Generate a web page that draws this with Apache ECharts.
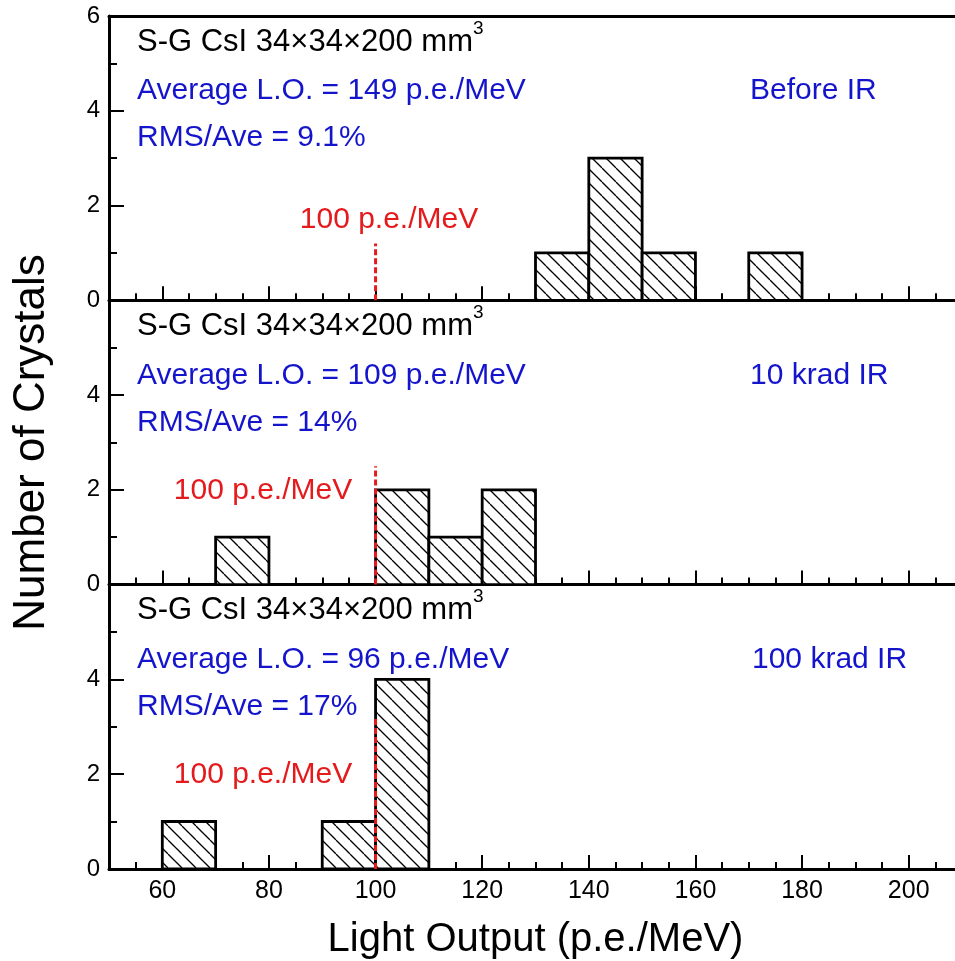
<!DOCTYPE html>
<html>
<head>
<meta charset="utf-8">
<script src="https://cdn.jsdelivr.net/npm/echarts@6/dist/echarts.min.js"></script>
<style>
html, body { margin: 0; padding: 0; background: #fff; }
#chart { width: 955px; height: 961px; }
</style>
</head>
<body>
<div id="chart"></div>
<script>
// 直方图数据：每个面板的分箱起点和晶体数量
const binWidth = 10
const binStart1 = [130, 140, 150, 170]
const count1 = [1, 3, 1, 1]
const binStart2 = [70, 100, 110, 120]
const count2 = [1, 2, 1, 2]
const binStart3 = [60, 90, 100]
const count3 = [1, 1, 4]

const panelTags = ['Before IR', '10 krad IR', '100 krad IR']
const avgLO = [149, 109, 96]
const rmsAve = ['9.1%', '14%', '17%']

// 100 p.e./MeV 参考线
const refValue = 100
const refTop = [1.2, 2.5, 3.2]

const xTicks = [60, 80, 100, 120, 140, 160, 180, 200]
const xMin = 50
const xMax = 210
const yMin = 0
const yMax = 6

const binStarts = [binStart1, binStart2, binStart3]
const counts = [count1, count2, count3]

const FONT = 'Liberation Sans, Arial, Helvetica, sans-serif'
const BLUE = '#1414cc'
const RED = '#e41a1c'

// 斜线填充
const hatch = document.createElement('canvas')
hatch.width = 14
hatch.height = 14
const hctx = hatch.getContext('2d')
hctx.fillStyle = '#fff'
hctx.fillRect(0, 0, 14, 14)
hctx.strokeStyle = '#000'
hctx.lineWidth = 1.3
for (let k = -1; k <= 1; k++) {
  hctx.beginPath()
  hctx.moveTo(k * 14, 0)
  hctx.lineTo(k * 14 + 14, 14)
  hctx.stroke()
}

const panelTop = [16, 300.3, 584.6]
const panelH = 284.3
const gridLeft = 109
const gridW = 853

const grids = []
const xAxes = []
const yAxes = []
const series = []
const graphics = []

for (let i = 0; i < 3; i++) {
  grids.push({
    left: gridLeft, top: panelTop[i], width: gridW, height: panelH,
    outerBoundsMode: 'none', containLabel: false, show: false
  })

  // 主刻度 + 标签
  xAxes.push({
    gridIndex: i, type: 'value', min: xMin, max: xMax, position: 'bottom',
    axisLine: { show: true, onZero: false, lineStyle: { color: '#000', width: 3 } },
    axisTick: { show: true, inside: true, length: 14, customValues: xTicks, lineStyle: { color: '#000', width: 2 } },
    axisLabel: { show: i === 2, customValues: xTicks, color: '#000', fontSize: 25, fontFamily: FONT, margin: 10 },
    splitLine: { show: false },
    name: i === 2 ? 'Light Output (p.e./MeV)' : '',
    nameLocation: 'middle', nameGap: 51,
    nameTextStyle: { color: '#000', fontSize: 40, fontFamily: FONT }
  })
  // 次刻度
  xAxes.push({
    gridIndex: i, type: 'value', min: xMin, max: xMax, interval: 5, position: 'bottom',
    axisLine: { show: false },
    axisTick: { show: true, inside: true, length: 7, lineStyle: { color: '#000', width: 2 } },
    axisLabel: { show: false },
    splitLine: { show: false }
  })

  yAxes.push({
    gridIndex: i, type: 'value', min: yMin, max: yMax, interval: 2,
    axisLine: { show: true, onZero: false, lineStyle: { color: '#000', width: 3 } },
    axisTick: { show: true, inside: true, length: 15, lineStyle: { color: '#000', width: 2 } },
    minorTick: { show: true, splitNumber: 2, length: 8, lineStyle: { color: '#000', width: 2 } },
    axisLabel: {
      color: '#000', fontSize: 24, fontFamily: FONT, margin: 9,
      formatter: v => (i > 0 && v === yMax) ? '' : String(v)
    },
    splitLine: { show: false },
    minorSplitLine: { show: false },
    name: i === 1 ? 'Number of Crystals' : '',
    nameLocation: 'middle', nameGap: 55,
    nameTextStyle: { color: '#000', fontSize: 44, fontFamily: FONT }
  })

  series.push({
    type: 'custom', xAxisIndex: i * 2, yAxisIndex: i, silent: true,
    data: binStarts[i].map((s, j) => [s, counts[i][j]]),
    encode: { x: 0, y: 1 },
    renderItem: (params, api) => {
      const p0 = api.coord([api.value(0), api.value(1)])
      const p1 = api.coord([api.value(0) + binWidth, 0])
      return {
        type: 'rect',
        shape: { x: p0[0], y: p0[1], width: p1[0] - p0[0], height: p1[1] - p0[1] },
        style: { fill: { image: hatch, repeat: 'repeat' }, stroke: '#000', lineWidth: 2.8 }
      }
    }
  })

  series.push({
    type: 'line', xAxisIndex: i * 2, yAxisIndex: i, silent: true, z: 5,
    data: [[refValue, 0], [refValue, refTop[i]]],
    symbol: 'none',
    lineStyle: { color: RED, width: 3, type: [6, 3] }
  })

  const t = panelTop[i]
  graphics.push({
    type: 'text', x: 137, y: t + 3,
    style: {
      text: '{m|S-G CsI 34×34×200 mm}{s|3}',
      rich: {
        m: { fontSize: 31, fontFamily: FONT, fill: '#000', lineHeight: 46 },
        s: { fontSize: 19, fontFamily: FONT, fill: '#000', lineHeight: 20, verticalAlign: 'top' }
      }
    }
  })
  graphics.push({
    type: 'text', x: 137, y: t + 75,
    style: { text: 'Average L.O. = ' + avgLO[i] + ' p.e./MeV', fill: BLUE, font: '30px ' + FONT, verticalAlign: 'middle' }
  })
  graphics.push({
    type: 'text', x: 137, y: t + 122,
    style: { text: 'RMS/Ave = ' + rmsAve[i], fill: BLUE, font: '30px ' + FONT, verticalAlign: 'middle' }
  })
  graphics.push({
    type: 'text', x: i === 2 ? 752 : 750, y: t + 75,
    style: { text: panelTags[i], fill: BLUE, font: '30px ' + FONT, verticalAlign: 'middle' }
  })
  graphics.push({
    type: 'text', x: i === 0 ? 389 : 263, y: i === 0 ? t + 204 : t + 190,
    style: { text: refValue + ' p.e./MeV', fill: RED, font: '30px ' + FONT, align: 'center', verticalAlign: 'middle' }
  })
}

// 顶部边框（第一面板）
xAxes.push({
  gridIndex: 0, type: 'value', min: xMin, max: xMax, position: 'top',
  axisLine: { show: true, onZero: false, lineStyle: { color: '#000', width: 3 } },
  axisTick: { show: false }, axisLabel: { show: false }, splitLine: { show: false }
})

const chart = echarts.init(document.getElementById('chart'))
chart.setOption({
  animation: false,
  backgroundColor: '#fff',
  grid: grids,
  xAxis: xAxes,
  yAxis: yAxes,
  series: series,
  graphic: graphics
})
</script>
</body>
</html>
